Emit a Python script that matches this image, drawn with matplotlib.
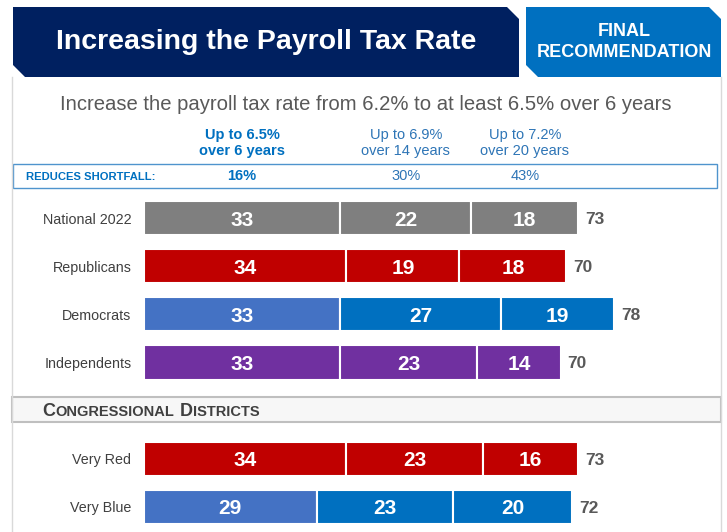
import matplotlib
matplotlib.use("Agg")
import matplotlib.pyplot as plt
import matplotlib.transforms as mtransforms
from matplotlib.patches import Polygon, Rectangle

plt.rcParams['font.family'] = ['Liberation Sans', 'DejaVu Sans']

# data
groups = ['National 2022', 'Republicans', 'Democrats', 'Independents', 'Very Red', 'Very Blue']
section = ['all', 'all', 'all', 'all', 'districts', 'districts']
seg1 = [33, 34, 33, 33, 34, 29]
seg2 = [22, 19, 27, 23, 23, 23]
seg3 = [18, 18, 19, 14, 16, 20]
totals = [73, 70, 78, 70, 73, 72]
options = ['Up to 6.5%\nover 6 years', 'Up to 6.9%\nover 14 years', 'Up to 7.2%\nover 20 years']
shortfall = ['16%', '30%', '43%']

gray, red, blue1, blue2, purple = '#7F7F7F', '#C00000', '#4472C4', '#0070C0', '#7030A0'
row_colors = {
    'National 2022': [gray, gray, gray],
    'Republicans': [red, red, red],
    'Democrats': [blue1, blue2, blue2],
    'Independents': [purple, purple, purple],
    'Very Red': [red, red, red],
    'Very Blue': [blue1, blue2, blue2],
}

fig = plt.figure(figsize=(7.27, 5.32), dpi=100)
bg = fig.add_axes([0, 0, 1, 1])
bg.set_xlim(0, 727)
bg.set_ylim(532, 0)
bg.axis('off')

# header boxes
bg.add_patch(Polygon([(13, 7), (507, 7), (519, 19), (519, 77), (25, 77), (13, 65)],
                     closed=True, color='#002060', lw=0))
bg.add_patch(Polygon([(526, 7), (709, 7), (721, 19), (721, 77), (538, 77), (526, 65)],
                     closed=True, color='#0070C0', lw=0))
bg.text(266, 42, 'Increasing the Payroll Tax Rate', color='white', fontsize=20.5,
        fontweight='bold', ha='center', va='center')
bg.text(624, 42, 'FINAL\nRECOMMENDATION', color='white', fontsize=13, fontweight='bold',
        ha='center', va='center', linespacing=1.3)

# frame
bg.plot([12, 12], [77, 532], color='#D9D9D9', lw=1)
bg.plot([721, 721], [77, 532], color='#D9D9D9', lw=1)

bg.text(366, 104, 'Increase the payroll tax rate from 6.2% to at least 6.5% over 6 years',
        color='#595959', fontsize=14.6, ha='center', va='center')

# shortfall box
bg.add_patch(Rectangle((13, 164), 704, 24, fill=False, edgecolor='#4F94CD', lw=1))
bg.text(26, 176.5, 'REDUCES SHORTFALL:', color='#0070C0', fontsize=8.1, fontweight='bold',
        va='center')

# districts box
bg.add_patch(Rectangle((12, 397), 709, 25, facecolor='#F7F7F7', edgecolor='#BFBFBF', lw=1.5))

# bars
ax = fig.add_axes([144 / 727, 1 / 532, 595 / 727, 337 / 532])
ax.set_facecolor('none')
pos = []
p = 0
for i, s in enumerate(section):
    if i > 0 and s != section[i - 1]:
        p += 1
    pos.append(p)
    p += 1

lefts = [0] * len(groups)
for seg_i, seg in enumerate([seg1, seg2, seg3]):
    cols = [row_colors[g][seg_i] for g in groups]
    bars = ax.barh(pos, seg, left=lefts, height=0.71, color=cols, edgecolor='white', lw=1.5)
    labs = ax.bar_label(bars, labels=[str(v) for v in seg], label_type='center', color='white',
                        fontsize=15, fontweight='bold')
    for lb in labs:
        lb.set_va('center_baseline')
    lefts = [l + v for l, v in zip(lefts, seg)]

for y, end, t in zip(pos, lefts, totals):
    ax.annotate(str(t), (end, y), xytext=(5, 0), textcoords='offset points',
                va='center_baseline', ha='left', color='#595959', fontsize=12.5,
                fontweight='bold')

ax.set_xlim(0, 100)
ax.set_ylim(max(pos) + 0.5, -0.5)
ax.set_yticks(pos, groups)
ax.set_xticks([])
ax.tick_params(axis='y', length=0, pad=9, labelsize=10.3, labelcolor='#404040')
for sp in ax.spines.values():
    sp.set_visible(False)

# option headers aligned with the national segments
trans = mtransforms.blended_transform_factory(ax.transData, bg.transData)
centers = [seg1[0] / 2, seg1[0] + seg2[0] / 2, seg1[0] + seg2[0] + seg3[0] / 2]
for i, (c, opt, sf) in enumerate(zip(centers, options, shortfall)):
    w = 'bold' if i == 0 else 'normal'
    col = '#0070C0' if i == 0 else '#2E75B6'
    ax.text(c, 143, opt, transform=trans, ha='center', va='center', fontsize=10.5,
            fontweight=w, color=col, linespacing=1.25)
    ax.text(c, 176.5, sf, transform=trans, ha='center', va='center', fontsize=10.5,
            fontweight=w, color=col)

# small caps section title
fig.canvas.draw()
renderer = fig.canvas.get_renderer()
x = 42
for word in ['CONGRESSIONAL', 'DISTRICTS']:
    for s, fs in [(word[0], 13), (word[1:], 10.5)]:
        t = bg.text(x, 416, s, fontsize=fs, fontweight='bold', color='#404040', va='baseline')
        x += t.get_window_extent(renderer).width
    x += 6

fig.savefig('out.png', dpi=100)
